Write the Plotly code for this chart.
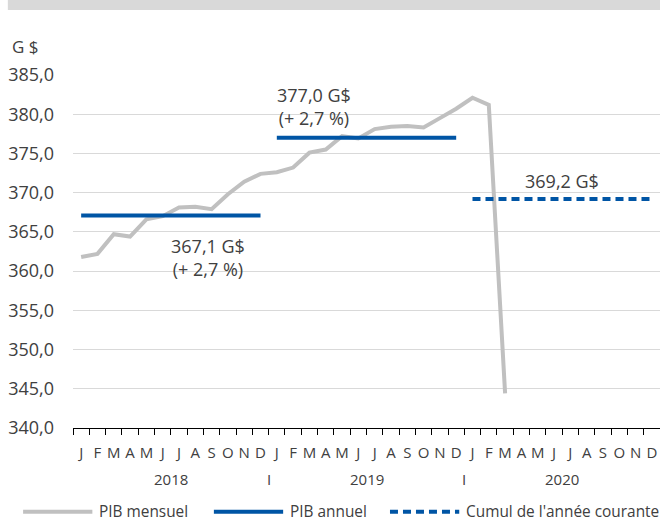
import plotly.graph_objects as go

# 数据：PIB mensuel (G$), 2018-01 .. 2020-03
months = ["J", "F", "M", "A", "M", "J", "J", "A", "S", "O", "N", "D"]
years = ["2018", "2019", "2020"]
pib_mensuel = [361.8, 362.2, 364.7, 364.4, 366.6, 367.0, 368.1, 368.2, 367.9, 369.8, 371.4, 372.4,
               372.6, 373.2, 375.1, 375.5, 377.2, 376.9, 378.1, 378.4, 378.5, 378.3, 379.5, 380.7,
               382.1, 381.2, 344.4]
pib_annuel = [367.1, 377.0]
cumul_courant = 369.2
annual_labels = ["367,1 G$<br>(+ 2,7 %)", "377,0 G$<br>(+ 2,7 %)"]
cumul_label = "369,2 G$"

GRAY = "#c0c0c0"
BLUE = "#0055a5"
TXT = "#404040"
FONT = "Open Sans"
DASH = "8px,5px"

n = len(months) * len(years)
x_all = list(range(n))

fig = go.Figure()

# 月度曲线
fig.add_trace(go.Scatter(
    x=x_all[:len(pib_mensuel)], y=pib_mensuel, mode="lines",
    line=dict(color=GRAY, width=4), showlegend=False,
))

# 年度水平线
for i, v in enumerate(pib_annuel):
    xs = x_all[i * 12:(i + 1) * 12]
    fig.add_trace(go.Scatter(
        x=[xs[0], xs[-1]], y=[v, v], mode="lines",
        line=dict(color=BLUE, width=4), showlegend=False,
    ))

# 当年累计（虚线）
xs = x_all[24:36]
fig.add_trace(go.Scatter(
    x=[xs[0], xs[-1]], y=[cumul_courant, cumul_courant], mode="lines",
    line=dict(color=BLUE, width=4, dash=DASH), showlegend=False,
))

# 数值标注
ann_font = dict(size=18, color=TXT)
fig.add_annotation(x=7.75, y=pib_annuel[0], yshift=-42, text=annual_labels[0],
                   showarrow=False, font=ann_font)
fig.add_annotation(x=14.3, y=pib_annuel[1], yshift=31, text=annual_labels[1],
                   showarrow=False, font=ann_font)
fig.add_annotation(x=29.5, y=cumul_courant, yshift=18, text=cumul_label,
                   showarrow=False, font=ann_font)

# 年份标签与分隔符
for i, yr in enumerate(years):
    fig.add_annotation(x=i * 12 + 5.5, y=0, yref="paper", yanchor="middle", yshift=-51,
                       text=yr, showarrow=False, font=dict(size=15, color=TXT))
for b in [11.5, 23.5]:
    fig.add_annotation(x=b, y=0, yref="paper", yanchor="middle", yshift=-51, text="I",
                       showarrow=False, font=dict(size=15, color=TXT))

# 单位
fig.add_annotation(x=-0.108, xref="paper", xanchor="left", y=1.082, yref="paper",
                   yanchor="middle", text="G $", showarrow=False, font=dict(size=17, color=TXT))

# 顶部灰条
fig.add_shape(type="rect", xref="paper", yref="paper", x0=-0.111, x1=1.0,
              y0=1.184, y1=1.25, fillcolor="#d9d9d9", line_width=0, layer="below")

# 自绘图例
legend_items = [("PIB mensuel", GRAY, "solid"), ("PIB annuel", BLUE, "solid"),
                ("Cumul de l'année courante", BLUE, DASH)]
leg_x = [-0.085, 0.24, 0.54]
for (name, col, dash), lx in zip(legend_items, leg_x):
    fig.add_shape(type="line", xref="paper", yref="paper", x0=lx, x1=lx + 0.118,
                  y0=-0.237, y1=-0.237, line=dict(color=col, width=4, dash=dash))
    fig.add_annotation(x=lx + 0.126, xref="paper", xanchor="left", y=-0.237, yref="paper",
                       yanchor="middle", text=name, showarrow=False,
                       font=dict(size=15.4, color=TXT))

fig.update_layout(
    width=660, height=522,
    margin=dict(l=73, r=0, t=75, b=94),
    plot_bgcolor="white", paper_bgcolor="white",
    font=dict(family=FONT, color=TXT),
    separators=", ",
    showlegend=False,
)
fig.update_xaxes(
    range=[-0.5, n - 0.5],
    tickmode="array", tickvals=x_all, ticktext=months * len(years),
    ticks="", tickfont=dict(size=15, color=TXT), ticklabelstandoff=11,
    showgrid=False, zeroline=False,
    showline=True, linecolor="black", linewidth=1,
    minor=dict(ticks="outside", tickmode="array",
               tickvals=[i - 0.5 for i in range(n + 1)],
               ticklen=6, tickcolor="black", tickwidth=1, showgrid=False),
)
fig.update_yaxes(
    range=[340, 385], dtick=5, tickformat=".1f",
    tickfont=dict(size=18, color=TXT),
    showgrid=True, gridcolor="#d9d9d9", gridwidth=1,
    zeroline=False, ticks="", ticklabelstandoff=18,
)

fig.write_html("out.html", config={"displayModeBar": False},
               post_script="document.body.style.margin='0';")
